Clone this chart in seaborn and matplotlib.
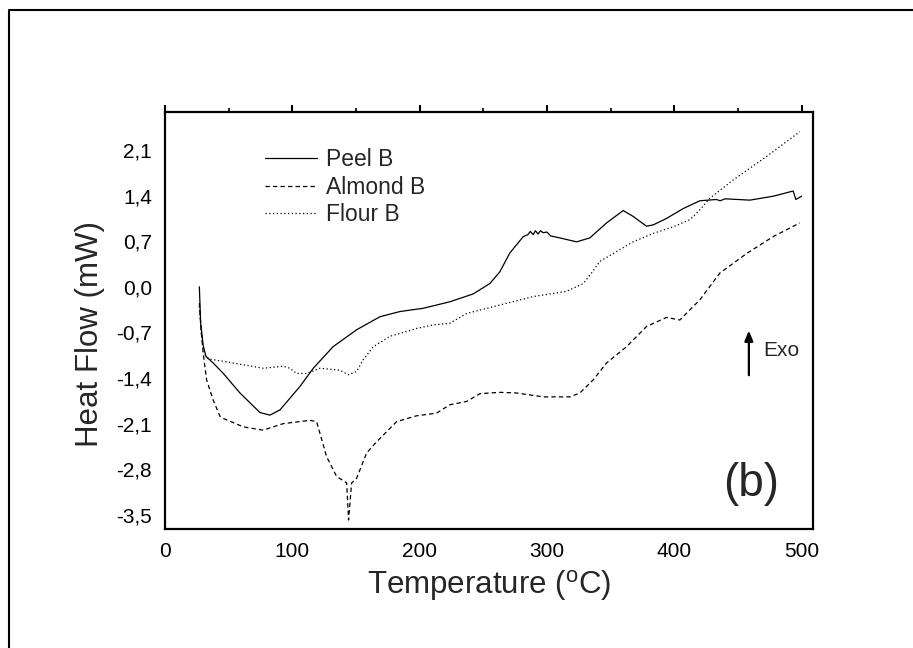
import numpy as np
import pandas as pd
import matplotlib
matplotlib.use("Agg")
import matplotlib.pyplot as plt
from matplotlib.ticker import FixedLocator, MultipleLocator
from matplotlib.lines import Line2D
import seaborn as sns

# ---- data ----
peel_x = [27, 28, 30, 32.2, 37.9, 45.8, 58.9, 74.6, 82.4, 90.3, 106, 116.5, 132, 150.5,
          168.8, 184.5, 202.8, 223.8, 242, 255.2, 263, 270.9, 281.4, 285, 287, 289.2, 291,
          293, 295, 297, 300, 303, 310.2, 323.3, 333.7, 346.8, 359.9, 367.7, 378.2, 383.5,
          394, 407, 420.1, 433.2, 436, 440, 459.4, 477.7, 493.4, 495.5, 500]
peel_y = [0.0, -0.55, -0.9, -1.07, -1.17, -1.33, -1.63, -1.93, -1.97, -1.89, -1.53, -1.25, -0.92,
          -0.66, -0.46, -0.38, -0.33, -0.23, -0.11, 0.05, 0.23, 0.52, 0.77, 0.8, 0.85, 0.8, 0.86,
          0.81, 0.86, 0.83, 0.84, 0.78, 0.75, 0.69, 0.75, 0.98, 1.17, 1.08, 0.93, 0.95,
          1.05, 1.2, 1.32, 1.34, 1.32, 1.35, 1.33, 1.39, 1.47, 1.34, 1.39]

almond_x = [27, 28.5, 30, 32.7, 37.9, 43.2, 45.8, 61.5, 77.2, 92.9, 113.9, 119.1, 127, 134.8,
            142.7, 144.2, 146.6, 150.5, 158.4, 166.2, 181.9, 197.6, 213.3, 223.8, 236.9,
            247.4, 263, 276.2, 297, 318, 325.9, 336.3, 346.8, 362.5, 378.2, 394, 404.4,
            420.1, 435.8, 456.8, 477.7, 498.6]
almond_y = [-0.25, -0.7, -1.02, -1.43, -1.74, -1.99, -2.02, -2.15, -2.20, -2.10, -2.05, -2.07,
            -2.61, -2.91, -3.01, -3.58, -3.01, -2.94, -2.55, -2.38, -2.07, -1.98, -1.94, -1.81,
            -1.76, -1.64, -1.62, -1.63, -1.69, -1.69, -1.63, -1.43, -1.17, -0.92, -0.61,
            -0.47, -0.51, -0.20, 0.21, 0.51, 0.77, 0.98]

flour_x = [27, 28.5, 30, 32, 35.3, 53.6, 77.2, 92.9, 98, 103.4, 111.3, 121.7, 137.4, 144,
           150.5, 155.7, 163.6, 176.7, 197.6, 210.7, 223.8, 236.9, 263, 289.2, 315.4, 328.5,
           335, 341.6, 354.7, 367.7, 383.5, 399.1, 412.3, 420.1, 428, 446.3, 472.5, 498.6]
flour_y = [-0.3, -0.7, -0.95, -1.07, -1.11, -1.17, -1.25, -1.22, -1.25, -1.33, -1.33, -1.25,
           -1.28, -1.35, -1.30, -1.12, -0.92, -0.76, -0.64, -0.585, -0.56, -0.41, -0.28,
           -0.15, -0.07, 0.05, 0.21, 0.39, 0.54, 0.69, 0.82, 0.92, 1.03, 1.18, 1.36, 1.64,
           2.0, 2.38]

series_names = ["Peel B", "Almond B", "Flour B"]
x_ticks = [0, 100, 200, 300, 400, 500]
x_tick_labels = ["0", "100", "200", "300", "400", "500"]
y_ticks = [-3.5, -2.8, -2.1, -1.4, -0.7, 0.0, 0.7, 1.4, 2.1]
y_tick_labels = ["-3,5", "-2,8", "-2,1", "-1,4", "-0,7", "0,0", "0,7", "1,4", "2,1"]

# ---- styling ----
sns.set_style("white")
plt.rcParams["font.family"] = ["Liberation Sans", "DejaVu Sans"]
plt.rcParams["mathtext.default"] = "regular"

fig = plt.figure(figsize=(9.13, 6.48), dpi=100)
ax = fig.add_axes([0.1807, 0.1844, 0.7098, 0.6435])

styles = ["-", (0, (3.5, 2.5)), (0, (1, 2))]
datasets = [(peel_x, peel_y), (almond_x, almond_y), (flour_x, flour_y)]
for (xs, ys), name, ls in zip(datasets, series_names, styles):
    df = pd.DataFrame({"T": xs, "HF": ys})
    sns.lineplot(data=df, x="T", y="HF", ax=ax, color="black", lw=0.9,
                 linestyle=ls, label=name, sort=False, estimator=None)

ax.set_xlim(0, 509)
ax.set_ylim(-3.71, 2.69)

ax.xaxis.set_major_locator(FixedLocator(x_ticks))
ax.set_xticklabels(x_tick_labels)
ax.xaxis.set_minor_locator(MultipleLocator(50))
ax.yaxis.set_major_locator(FixedLocator(y_ticks))
ax.set_yticklabels(y_tick_labels)
ax.yaxis.set_minor_locator(FixedLocator([v + 0.35 for v in y_ticks]))

for s in ax.spines.values():
    s.set_linewidth(1.6)
    s.set_color("black")

ax.tick_params(axis="both", which="major", direction="out", length=5, width=1.5,
               labelsize=15, colors="black", pad=4.5)
ax.tick_params(axis="both", which="minor", direction="out", length=2.8, width=1.5)
ax.tick_params(axis="x", which="both", top=True)

ax.set_xlabel("Temperature ($^{o}$C)", fontsize=22.5, labelpad=5)
ax.set_ylabel("Heat Flow (mW)", fontsize=22.5)
ax.yaxis.set_label_coords(-0.092, 0.466)

leg = ax.legend(loc="upper left", bbox_to_anchor=(0.154, 0.912), frameon=False,
                fontsize=16.5, handlelength=2.3, handletextpad=0.35, labelspacing=0.2,
                borderaxespad=0, borderpad=0)
for h in leg.get_lines():
    h.set_linewidth(0.9)

ax.annotate("", xy=(458.6, -0.63), xytext=(458.6, -1.40),
            arrowprops=dict(arrowstyle="-|>,head_width=0.25,head_length=0.6",
                            color="black", lw=1.6))
ax.text(469.6, -0.98, "Exo", fontsize=15, ha="left", va="center")
ax.text(460, -3.02, "(b)", fontsize=33, ha="center", va="center")

# image frame (top and left edges)
fig.add_artist(Line2D([0.0099, 0.0099, 1.0], [0.0, 0.9846, 0.9846],
                      transform=fig.transFigure, color="black", lw=1.5))

fig.savefig("out.png", dpi=100)
